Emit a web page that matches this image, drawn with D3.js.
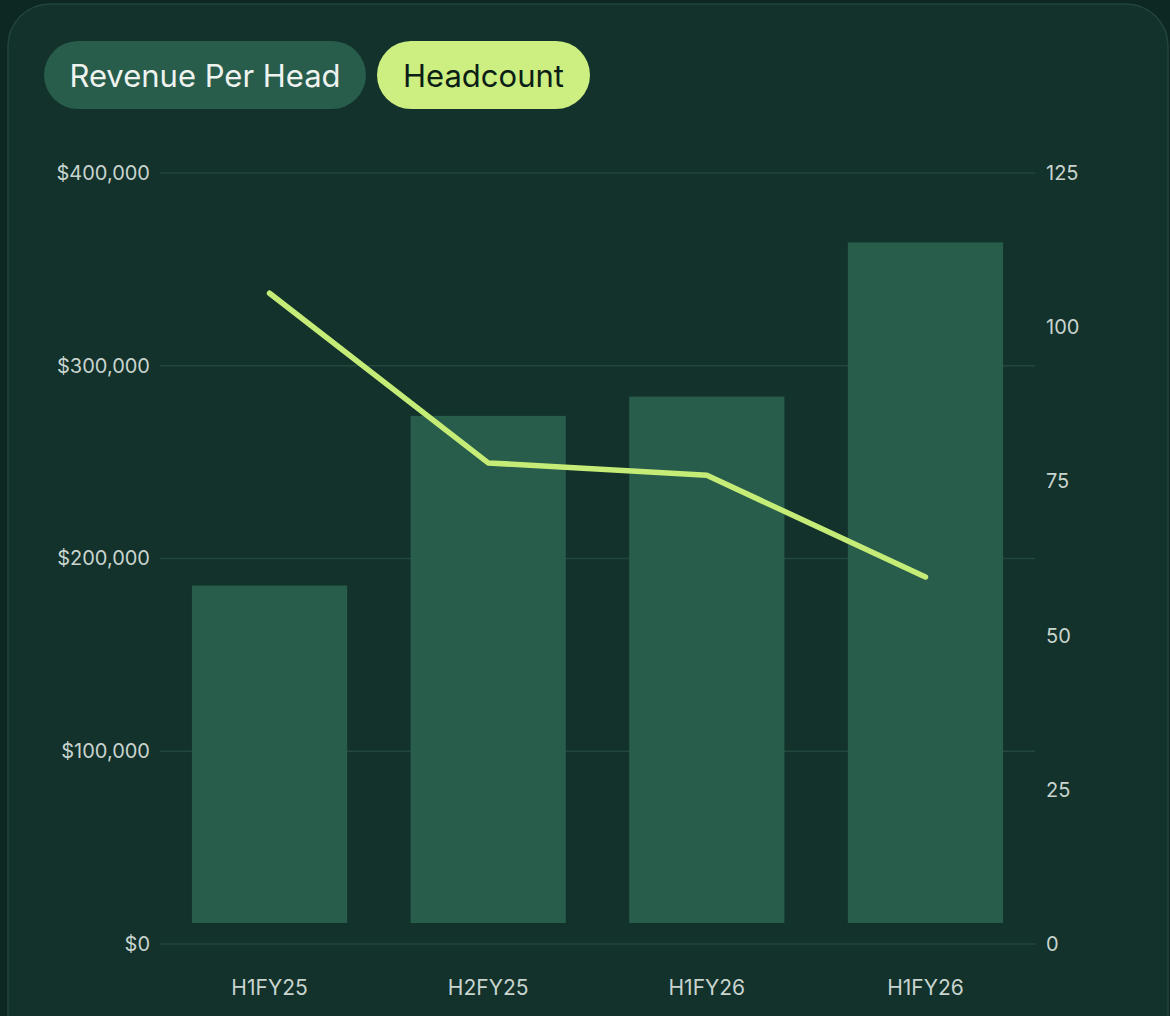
<!DOCTYPE html>
<html>
<head>
<meta charset="utf-8">
<script src="https://cdn.jsdelivr.net/npm/d3@7"></script>
<style>
  html, body { margin: 0; padding: 0; background: #0d2722; }
  svg { display: block; }
</style>
</head>
<body>
<svg id="chart" width="1170" height="1016"></svg>
<script>
// Half-year periods on the x axis
const periods = ["H1FY25", "H2FY25", "H1FY26", "H1FY26"];
// Revenue per head (bars, left axis, USD)
const revenuePerHead = [186000, 274000, 284000, 364000];
// Headcount (line, right axis)
const headcount = [105.5, 78, 76, 59.5];
// Axis ticks
const revenueTicks = [0, 100000, 200000, 300000, 400000];
const headcountTicks = [0, 25, 50, 75, 100, 125];
// Toggle pills above the chart
const toggles = ["Revenue Per Head", "Headcount"];

(function draw() {
  const svg = d3.select("#chart");
  const font = "Inter, 'Noto Sans', sans-serif";

  // Card
  svg.append("rect")
    .attr("x", 8).attr("y", 4)
    .attr("width", 1160).attr("height", 1100)
    .attr("rx", 42)
    .attr("fill", "#12322b")
    .attr("stroke", "#21453c").attr("stroke-width", 1.5);

  // Toggle pills
  const pillStyles = [
    { bg: "#285c4b", fg: "#eef3f0", x: 44, w: 322 },
    { bg: "#cdee80", fg: "#0b1e16", x: 377, w: 213 }
  ];
  toggles.forEach((t, i) => {
    const s = pillStyles[i];
    svg.append("rect")
      .attr("x", s.x).attr("y", 41).attr("width", s.w).attr("height", 68)
      .attr("rx", 34).attr("fill", s.bg);
    svg.append("text")
      .attr("x", s.x + s.w / 2).attr("y", 75)
      .attr("text-anchor", "middle").attr("dominant-baseline", "central")
      .attr("font-family", font).attr("font-size", 31)
      .attr("fill", s.fg).text(t);
  });

  // Plot area
  const pLeft = 160, pRight = 1035, pTop = 173, pBottom = 944;

  const x = d3.scaleBand().domain(d3.range(periods.length))
    .range([pLeft, pRight]).paddingInner(0.29).paddingOuter(0.146);
  const yL = d3.scaleLinear().domain([0, 400000]).range([pBottom, pTop]);
  const yR = d3.scaleLinear().domain([0, 125]).range([pBottom, pTop]);

  // Gridlines
  svg.append("g").selectAll("line").data(revenueTicks).join("line")
    .attr("x1", pLeft).attr("x2", pRight)
    .attr("y1", d => yL(d)).attr("y2", d => yL(d))
    .attr("stroke", "#22473d").attr("stroke-width", 1.5);

  // Left axis
  const fmt = d => "$" + d3.format(",")(d);
  const axisL = svg.append("g").attr("transform", `translate(${pLeft},0)`)
    .call(d3.axisLeft(yL).tickValues(revenueTicks).tickFormat(fmt).tickSize(0).tickPadding(10));
  // Right axis
  const axisR = svg.append("g").attr("transform", `translate(${pRight},0)`)
    .call(d3.axisRight(yR).tickValues(headcountTicks).tickSize(0).tickPadding(11));
  // Bottom axis
  const axisB = svg.append("g").attr("transform", `translate(0,${pBottom})`)
    .call(d3.axisBottom(x).tickFormat(i => periods[i]).tickSize(0).tickPadding(36));

  [axisL, axisR, axisB].forEach(g => {
    g.select(".domain").remove();
    g.selectAll("text")
      .attr("font-family", font).attr("font-size", 20)
      .attr("fill", "#c9d4cf");
  });
  axisB.selectAll("text").attr("font-size", 21);

  // Bars, lifted slightly off the baseline
  const barGap = 21;
  svg.append("g").selectAll("rect").data(revenuePerHead).join("rect")
    .attr("x", (d, i) => x(i))
    .attr("width", x.bandwidth())
    .attr("y", d => yL(d))
    .attr("height", d => yL(0) - barGap - yL(d))
    .attr("fill", "#285c4b");

  // Headcount line
  const line = d3.line()
    .x((d, i) => x(i) + x.bandwidth() / 2)
    .y(d => yR(d));
  svg.append("path")
    .datum(headcount)
    .attr("d", line)
    .attr("fill", "none")
    .attr("stroke", "#c6ec78")
    .attr("stroke-width", 5.5)
    .attr("stroke-linecap", "round")
    .attr("stroke-linejoin", "round");
})();
</script>
</body>
</html>
